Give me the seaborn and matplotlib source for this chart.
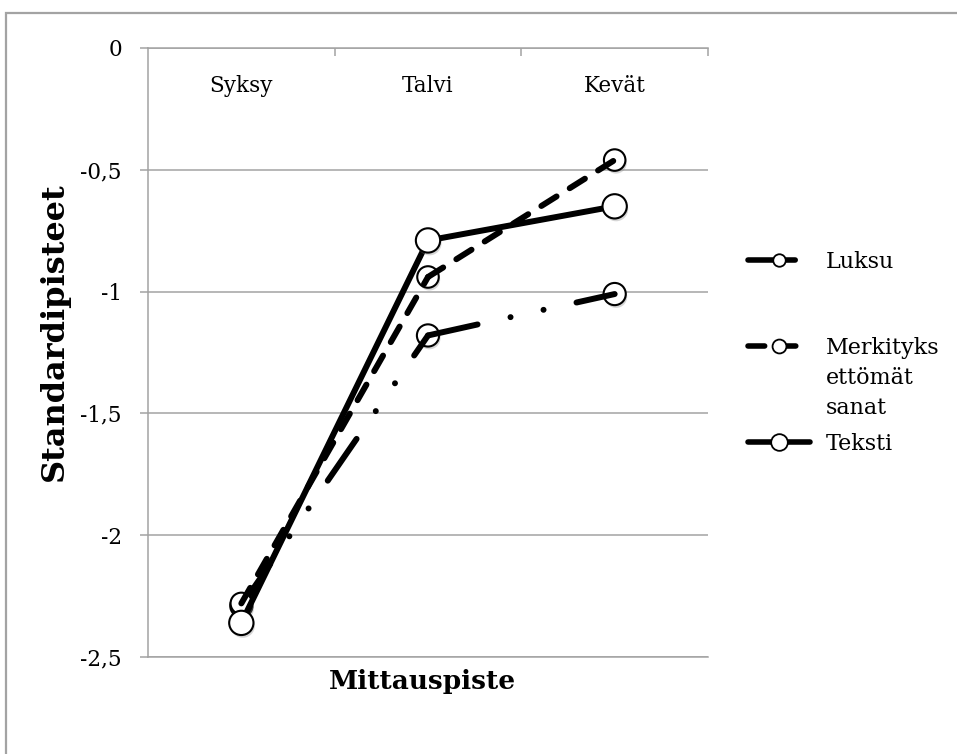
import numpy as np
import pandas as pd
import matplotlib
matplotlib.use("Agg")
import matplotlib.pyplot as plt
import matplotlib.patheffects as pe
from matplotlib.legend_handler import HandlerLine2D
from matplotlib.lines import Line2D
from matplotlib.patches import Rectangle
import seaborn as sns

# Measurement points and mean standard scores per test
categories = ["Syksy", "Talvi", "Kevät"]
luksu = [-2.29, -1.18, -1.01]
merkityksettomat = [-2.28, -0.94, -0.46]
teksti = [-2.36, -0.79, -0.65]
series_names = ["Luksu", "Merkityksettömät sanat", "Teksti"]
legend_labels = ["Luksu", "Merkityks\nettömät\nsanat", "Teksti"]
y_ticks = [0, -0.5, -1, -1.5, -2, -2.5]
y_tick_labels = ["0", "-0,5", "-1", "-1,5", "-2", "-2,5"]

sns.set_theme(style="white")
plt.rcParams["font.family"] = ["DejaVu Serif"]
plt.rcParams["text.color"] = "black"
plt.rcParams["axes.labelcolor"] = "black"

GRAY = "#a3a3a3"
W, H = 957, 754
fig = plt.figure(figsize=(W / 100, H / 100), dpi=100)
ax = fig.add_axes([148 / W, 1 - 657 / H, (708 - 148) / W, (657 - 48) / H])

# outer chart frame (open on the right and bottom)
fig.patches.append(Rectangle((6 / W, -0.2), 1.2, 1.2 - 13 / H, transform=fig.transFigure,
                             fill=False, edgecolor=GRAY, linewidth=1.6, zorder=0))

pos = np.arange(len(categories))
values = {"Luksu": luksu, "Merkityksettömät sanat": merkityksettomat, "Teksti": teksti}

# each line is drawn segment by segment so the dash pattern restarts at every point
seg_rows = []
for name in series_names:
    vals = values[name]
    for i in range(len(pos) - 1):
        for j in (i, i + 1):
            seg_rows.append({"series": name, "segment": i, "pos": pos[j], "score": vals[j]})
segments = pd.DataFrame(seg_rows)
points = pd.DataFrame({
    "series": np.repeat(series_names, len(pos)),
    "pos": np.tile(pos, len(series_names)),
    "score": luksu + merkityksettomat + teksti,
})

styles = {
    "Luksu": dict(ls=(0, (8.5, 5.65, 0.01, 5.65, 0.01, 5.65)), ms=16, line_z=2.1, mark_z=2.0),
    "Merkityksettömät sanat": dict(ls=(0, (3.0, 2.6)), ms=15.5, line_z=2.3, mark_z=2.2),
    "Teksti": dict(ls="-", ms=17.5, line_z=2.4, mark_z=2.5),
}
shadow = [pe.SimplePatchShadow(offset=(1, -2), shadow_rgbFace="0.55", alpha=0.35), pe.Normal()]

for name in series_names:
    st = styles[name]
    seg = segments[segments["series"] == name]
    pts = points[points["series"] == name]
    sns.lineplot(data=seg, x="pos", y="score", units="segment", estimator=None, ax=ax,
                 color="black", linewidth=4.3, linestyle=st["ls"], dash_capstyle="round",
                 solid_capstyle="round", zorder=st["line_z"], legend=False)
    sns.scatterplot(data=pts, x="pos", y="score", ax=ax, s=st["ms"] ** 2, color="white",
                    edgecolor="black", linewidth=1.5, zorder=st["mark_z"], legend=False,
                    path_effects=shadow)

ax.set_xlim(-0.5, 2.5)
ax.set_ylim(-2.5, 0)

ax.set_yticks(y_ticks, y_tick_labels)
ax.tick_params(axis="y", left=True, direction="out", length=5.8, width=1.1, color=GRAY,
               pad=13, labelsize=15.5, labelcolor="black")

ax.set_xticks(pos, categories)
ax.xaxis.set_ticks_position("top")
ax.tick_params(axis="x", which="major", length=0, pad=-35, labelsize=15.5,
               labeltop=True, labelbottom=False, labelcolor="black")
ax.set_xticks([0.5, 1.5, 2.5], minor=True)
ax.tick_params(axis="x", which="minor", top=True, bottom=False, direction="in",
               length=6, width=1.1, color=GRAY)

ax.yaxis.grid(True, color=GRAY, linewidth=1.1)
ax.xaxis.grid(False)
for side in ("top", "left", "bottom"):
    ax.spines[side].set_color(GRAY)
    ax.spines[side].set_linewidth(1.1)
ax.spines["right"].set_visible(False)

ax.set_xlabel("Mittauspiste", fontsize=19, fontweight="bold")
ax.set_ylabel("Standardipisteet", fontsize=23, fontweight="bold")
ax.xaxis.set_label_coords((422 - 148) / 560, -(669 - 657) / 609)
ax.xaxis.label.set_verticalalignment("top")
ax.yaxis.set_label_coords((70 - 148) / 560, (657 - 332) / 609)


class FirstLineHandler(HandlerLine2D):
    """Place the legend key beside the first line of a wrapped label."""

    def __init__(self, shift, **kw):
        super().__init__(**kw)
        self.shift = shift

    def create_artists(self, legend, orig_handle, xdescent, ydescent, width, height,
                       fontsize, trans):
        artists = super().create_artists(legend, orig_handle, xdescent, ydescent,
                                         width, height, fontsize, trans)
        for a in artists:
            a.set_ydata(np.asarray(a.get_ydata(), dtype=float) + self.shift)
        return artists


legend_rows = [262, 378, 444]
legend_ms = [9, 10, 12]
for name, label, row, lms in zip(series_names, legend_labels, legend_rows, legend_ms):
    st = styles[name]
    handle = Line2D([], [], color="black", linewidth=4.0, linestyle=st["ls"],
                    dash_capstyle="round", solid_capstyle="round",
                    marker="o", markersize=lms, markerfacecolor="white",
                    markeredgecolor="black", markeredgewidth=1.3)
    hmap = {handle: FirstLineHandler(23.5)} if "\n" in label else None
    leg = fig.legend([handle], [label], loc="center left",
                     bbox_to_anchor=(748 / W, 1 - row / H), frameon=False,
                     fontsize=16, handlelength=2.8, handletextpad=0.7,
                     borderpad=0, borderaxespad=0, handler_map=hmap)
    for t in leg.get_texts():
        t.set_linespacing(1.45)
        t.set_color("black")

fig.savefig("out.png", dpi=100)
